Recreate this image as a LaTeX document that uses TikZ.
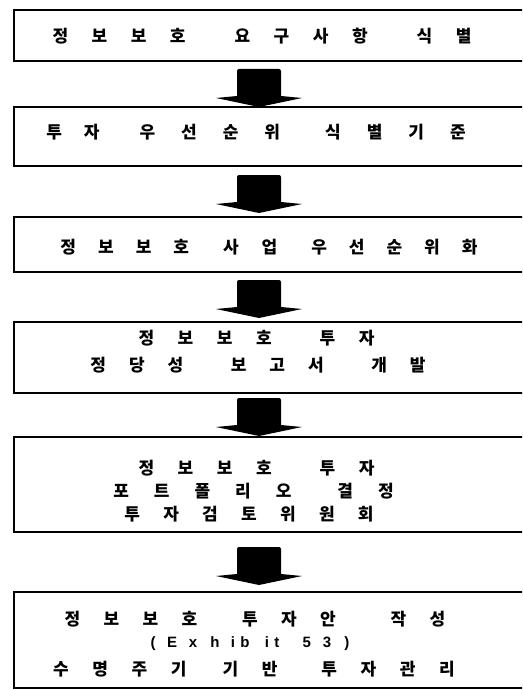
\documentclass[tikz,border=0pt]{standalone}
\usepackage{fontspec}
\newfontfamily\kr{Noto Sans CJK KR}
\newfontfamily\lat{Liberation Sans}
\newcommand\g[1]{\hspace{\dimexpr #1pt - 1pt\relax}}
\newcommand\hh[1]{\hspace{#1pt}}
\tikzset{
  x=1pt, y=-1pt,
  box/.style={draw=black, line width=1.2pt, minimum width=526pt, inner sep=0pt},
  txt/.style={font=\kr\bfseries\fontsize{17pt}{17pt}\selectfont, inner sep=0pt, anchor=center},
  ltxt/.style={font=\lat\bfseries\fontsize{15pt}{15pt}\selectfont, inner sep=0pt, anchor=center},
  blockarrow/.pic={\fill[black] (-22,0) [rounded corners=2pt]-- (22,0) [sharp corners]-- (22,27) -- (43,29) -- (0,38) -- (-43,29) -- (-22,27) [rounded corners=2pt]-- cycle;}
}
\begin{document}
\begin{tikzpicture}
\clip (0,0) rectangle (522,690);
\fill[white] (0,0) rectangle (522,690);
% boxes
\node[box, minimum height=51pt] (b1) at (277,35.5) {};
\node[box, minimum height=59pt] (b2) at (277,136.5) {};
\node[box, minimum height=55pt] (b3) at (277,244.5) {};
\node[box, minimum height=71pt] (b4) at (277,357.5) {};
\node[box, minimum height=95pt] (b5) at (277,484.5) {};
\node[box, minimum height=96pt] (b6) at (277,640) {};
% texts
\node[txt] (t1) at (262,36) {정\g{24.5}보\g{24.5}보\g{24.5}호\g{50}요\g{24.5}구\g{24.5}사\g{24.5}항\g{50}식\g{24.5}별};
\node[txt] (t2) at (256,132) {투\g{23}자\g{41}우\g{27}선\g{27}순\g{27}위\g{46}식\g{27}별\g{27}기\g{27}준};
\node[txt] (t3) at (269,247) {정\g{23}보\g{23}보\g{23}호\g{35}사\g{24}업\g{35}우\g{23}선\g{23}순\g{23}위\g{23}화};
\node[txt] (t4a) at (256.5,338) {정\g{24.5}보\g{24.5}보\g{24.5}호\g{49}투\g{24.5}자};
\node[txt] (t4b) at (258,365) {정\g{24}당\g{24}성\g{48.5}보\g{24}고\g{24}서\g{48.5}개\g{24}발};
\node[txt] (t5a) at (256.5,468) {정\g{24.5}보\g{24.5}보\g{24.5}호\g{49}투\g{24.5}자};
\node[txt] (t5b) at (253.5,491) {포\g{26}트\g{26}폴\g{26}리\g{26}오\g{47}결\g{26}정};
\node[txt] (t5c) at (249,514) {투\g{24.3}자\g{24.3}검\g{24.3}토\g{24.3}위\g{24.3}원\g{24.3}회};
\node[txt] (t6a) at (255,619) {정\g{24.3}보\g{24.3}보\g{24.3}호\g{46}투\g{24.3}자\g{24.3}안\g{56}작\g{24.3}성};
\node[ltxt] (t6b) at (250,643.5) {(\hh{11.5}E\hh{11.8}x\hh{13.2}h\hh{11.3}i\hh{5.3}b\hh{15.3}i\hh{5.4}t\hh{23.3}5\hh{11.7}3\hh{13.3})};
\node[txt] (t6c) at (254,669) {수\g{24.6}명\g{24.6}주\g{24.6}기\g{37}기\g{24.6}반\g{45}투\g{24.6}자\g{24.6}관\g{24.6}리};
% arrows
\coordinate (a1) at (259,69);
\coordinate (a2) at (259,175);
\coordinate (a3) at (259,280);
\coordinate (a4) at (259,398);
\coordinate (a5) at (259,547);
\foreach \a in {a1,a2,a3,a4,a5} { \pic at (\a) {blockarrow}; }
\end{tikzpicture}
\end{document}
